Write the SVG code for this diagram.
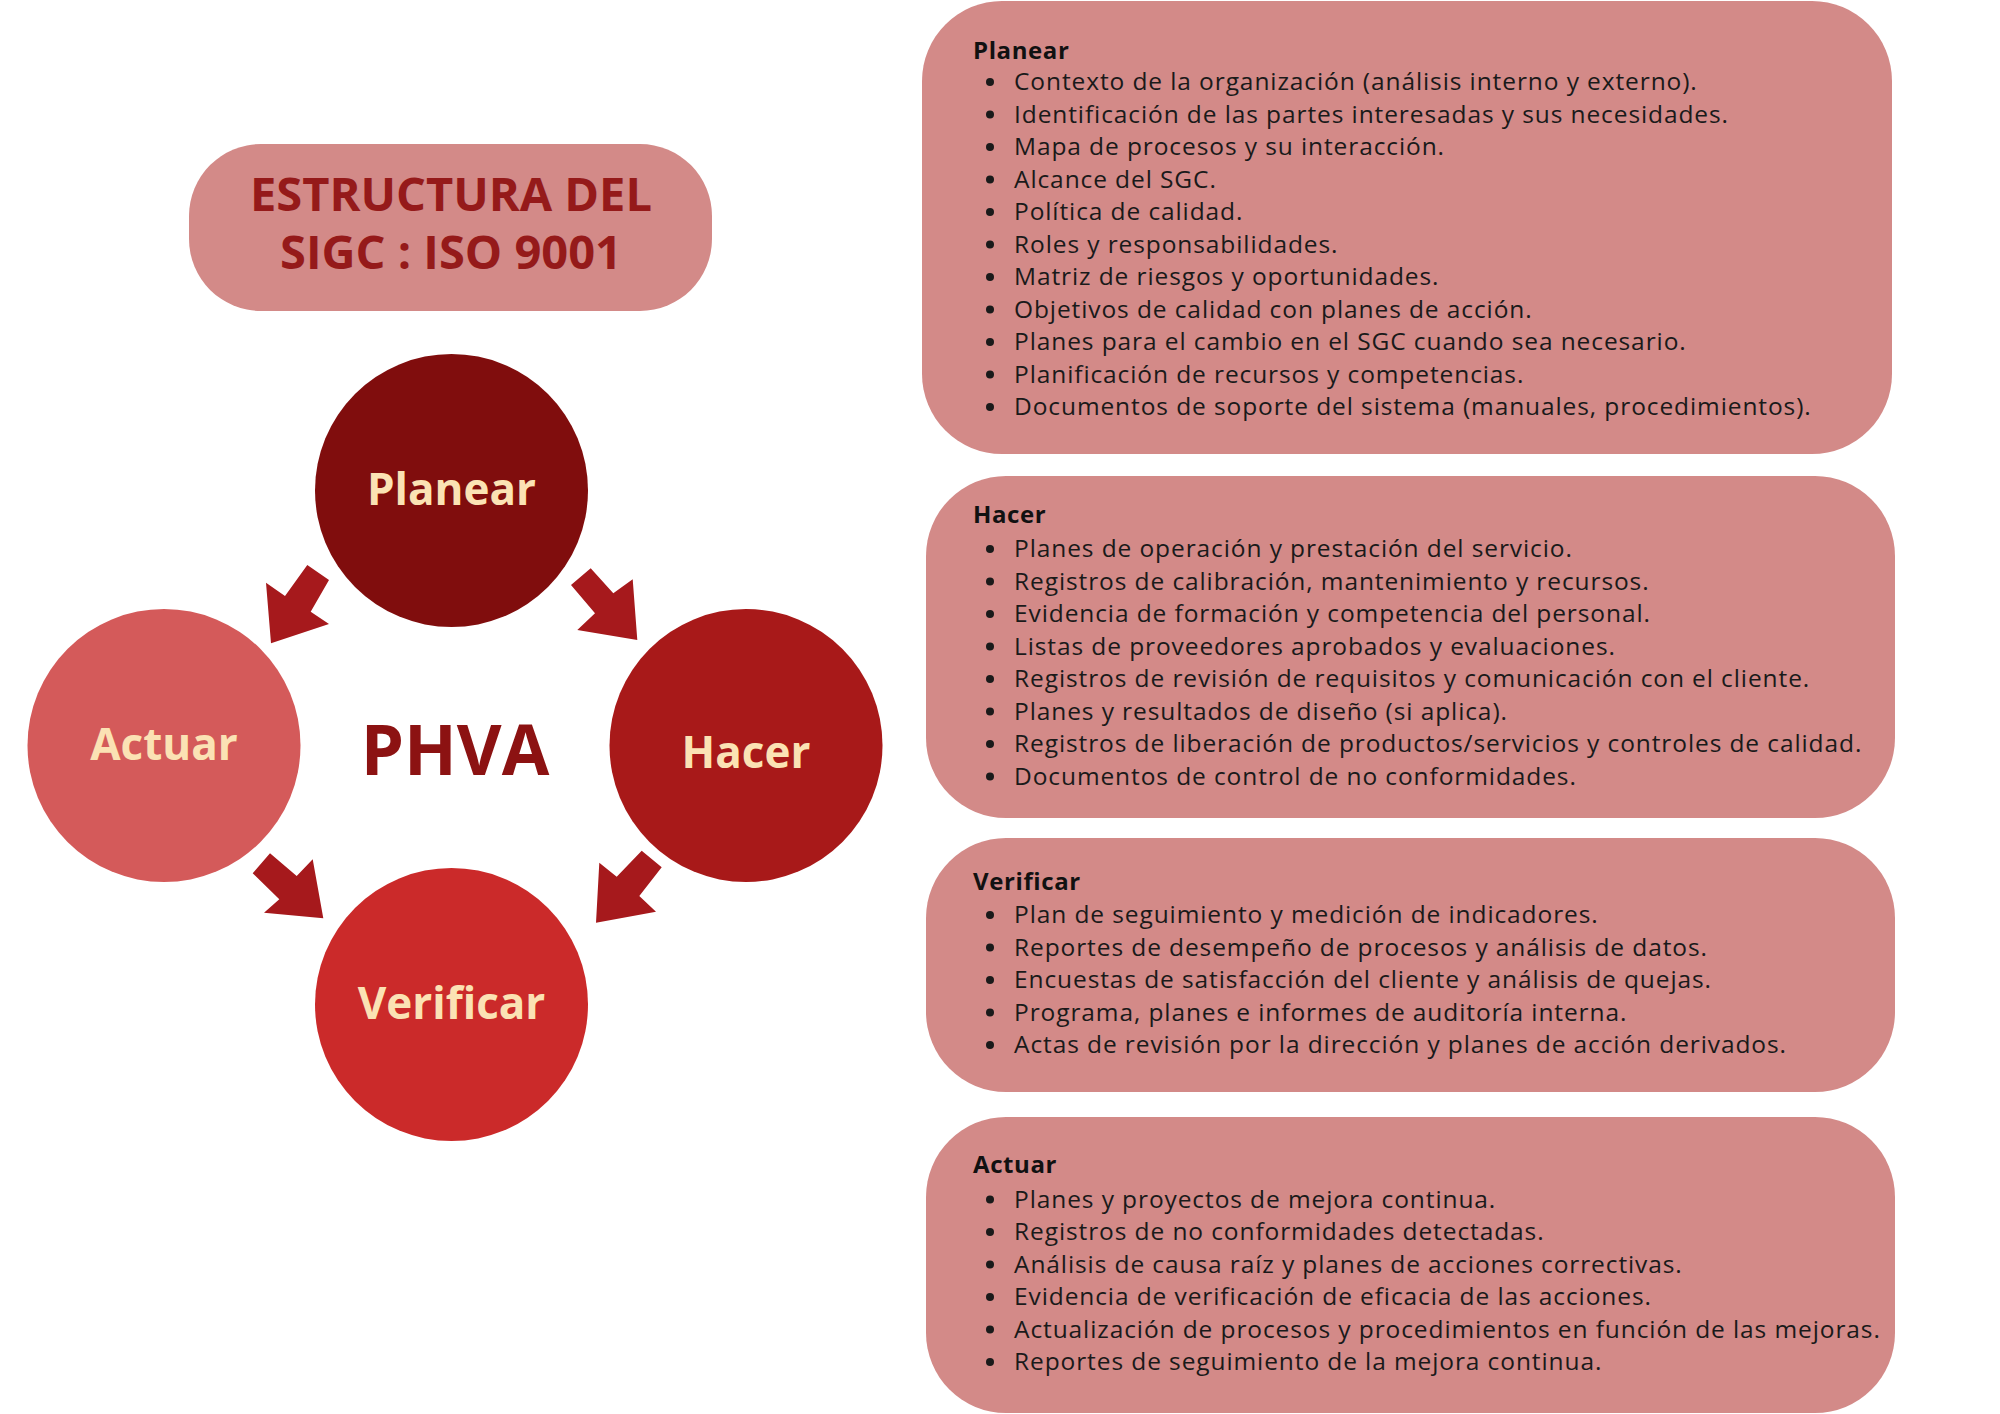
<svg xmlns="http://www.w3.org/2000/svg" width="2000" height="1414" viewBox="0 0 2000 1414">
<style>
.box{fill:#d38a88}
.title{font-family:"Open Sans","Liberation Sans",sans-serif;font-weight:700;font-size:47px;fill:#951a1a;text-anchor:middle}
.ctext{font-family:"Open Sans","Liberation Sans",sans-serif;font-weight:700;font-size:44px;fill:#fbe2b4;text-anchor:middle}
.phva{font-family:"Open Sans","Liberation Sans",sans-serif;font-weight:700;font-size:69px;fill:#8c1212;text-anchor:middle}
.hd{font-family:"Open Sans","Liberation Sans",sans-serif;font-weight:700;font-size:24px;letter-spacing:0.6px;fill:#111}
.li{font-family:"Open Sans","Liberation Sans",sans-serif;font-size:24.5px;letter-spacing:0.9px;fill:#1a1a1a}
.bul{fill:#1a1a1a}
.arrow{fill:#a6191c}
</style>
<rect width="2000" height="1414" fill="#ffffff"/>

<g id="title">
<rect class="box" x="189" y="144" width="523" height="167" rx="72"/>
<text class="title" x="451" y="211">ESTRUCTURA DEL</text>
<text class="title" x="451" y="269">SIGC : ISO 9001</text>
</g>

<g id="node-planear">
<circle cx="451.5" cy="490.5" r="136.5" fill="#800d0d"/>
<text class="ctext" x="451.5" y="505">Planear</text>
</g>
<g id="node-actuar">
<circle cx="164" cy="745.5" r="136.5" fill="#d45a5a"/>
<text class="ctext" x="164" y="760">Actuar</text>
</g>
<g id="node-hacer">
<circle cx="746" cy="745.5" r="136.5" fill="#a81919"/>
<text class="ctext" x="746" y="768">Hacer</text>
</g>
<g id="node-verificar">
<circle cx="451.5" cy="1004.5" r="136.5" fill="#cb2a2a"/>
<text class="ctext" x="451.5" y="1019">Verificar</text>
</g>
<g id="center-label">
<text class="phva" x="455" y="775">PHVA</text>
</g>

<g id="connectors">
<polygon class="arrow" points="307.3,565 329,580 310.7,611.7 329,624 271,643.3 266,582.7 285,596"/>
<polygon class="arrow" points="571,585 590.7,568.3 613.3,593.3 632.7,579.3 637.3,640 577.3,630 595,613.3"/>
<polygon class="arrow" points="252.7,873.3 270,853.3 296.7,876 312.7,859.3 323.3,918.3 264,912.7 279.3,899.3"/>
<polygon class="arrow" points="641.7,850.7 661.7,867.3 639.3,896 656,911.7 596,922.7 599.3,862.7 616.7,876.7"/>
</g>

<g id="box-planear">
<rect class="box" x="922" y="1" width="970" height="453" rx="80"/>
<text class="hd" x="973" y="59">Planear</text>
<g class="bul">
<circle cx="990" cy="82" r="4"/><circle cx="990" cy="114.5" r="4"/><circle cx="990" cy="147" r="4"/><circle cx="990" cy="179.5" r="4"/><circle cx="990" cy="212" r="4"/><circle cx="990" cy="244.5" r="4"/><circle cx="990" cy="277" r="4"/><circle cx="990" cy="309.5" r="4"/><circle cx="990" cy="342" r="4"/><circle cx="990" cy="374.5" r="4"/><circle cx="990" cy="407" r="4"/>
</g>
<text class="li" x="1014" y="90">Contexto de la organización (análisis interno y externo).</text>
<text class="li" x="1014" y="122.5">Identificación de las partes interesadas y sus necesidades.</text>
<text class="li" x="1014" y="155">Mapa de procesos y su interacción.</text>
<text class="li" x="1014" y="187.5">Alcance del SGC.</text>
<text class="li" x="1014" y="220">Política de calidad.</text>
<text class="li" x="1014" y="252.5">Roles y responsabilidades.</text>
<text class="li" x="1014" y="285">Matriz de riesgos y oportunidades.</text>
<text class="li" x="1014" y="317.5">Objetivos de calidad con planes de acción.</text>
<text class="li" x="1014" y="350">Planes para el cambio en el SGC cuando sea necesario.</text>
<text class="li" x="1014" y="382.5">Planificación de recursos y competencias.</text>
<text class="li" x="1014" y="415">Documentos de soporte del sistema (manuales, procedimientos).</text>
</g>

<g id="box-hacer">
<rect class="box" x="926" y="476" width="969" height="342" rx="80"/>
<text class="hd" x="973" y="523">Hacer</text>
<g class="bul">
<circle cx="990" cy="549" r="4"/><circle cx="990" cy="581.5" r="4"/><circle cx="990" cy="614" r="4"/><circle cx="990" cy="646.5" r="4"/><circle cx="990" cy="679" r="4"/><circle cx="990" cy="711.5" r="4"/><circle cx="990" cy="744" r="4"/><circle cx="990" cy="776.5" r="4"/>
</g>
<text class="li" x="1014" y="557">Planes de operación y prestación del servicio.</text>
<text class="li" x="1014" y="589.5">Registros de calibración, mantenimiento y recursos.</text>
<text class="li" x="1014" y="622">Evidencia de formación y competencia del personal.</text>
<text class="li" x="1014" y="654.5">Listas de proveedores aprobados y evaluaciones.</text>
<text class="li" x="1014" y="687">Registros de revisión de requisitos y comunicación con el cliente.</text>
<text class="li" x="1014" y="719.5">Planes y resultados de diseño (si aplica).</text>
<text class="li" x="1014" y="752">Registros de liberación de productos/servicios y controles de calidad.</text>
<text class="li" x="1014" y="784.5">Documentos de control de no conformidades.</text>
</g>

<g id="box-verificar">
<rect class="box" x="926" y="838" width="969" height="254" rx="80"/>
<text class="hd" x="973" y="889.5">Verificar</text>
<g class="bul">
<circle cx="990" cy="915" r="4"/><circle cx="990" cy="947.5" r="4"/><circle cx="990" cy="980" r="4"/><circle cx="990" cy="1012.5" r="4"/><circle cx="990" cy="1045" r="4"/>
</g>
<text class="li" x="1014" y="923">Plan de seguimiento y medición de indicadores.</text>
<text class="li" x="1014" y="955.5">Reportes de desempeño de procesos y análisis de datos.</text>
<text class="li" x="1014" y="988">Encuestas de satisfacción del cliente y análisis de quejas.</text>
<text class="li" x="1014" y="1020.5">Programa, planes e informes de auditoría interna.</text>
<text class="li" x="1014" y="1053">Actas de revisión por la dirección y planes de acción derivados.</text>
</g>

<g id="box-actuar">
<rect class="box" x="926" y="1117" width="969" height="296" rx="80"/>
<text class="hd" x="973" y="1172.5">Actuar</text>
<g class="bul">
<circle cx="990" cy="1199.5" r="4"/><circle cx="990" cy="1232" r="4"/><circle cx="990" cy="1264.5" r="4"/><circle cx="990" cy="1297" r="4"/><circle cx="990" cy="1329.5" r="4"/><circle cx="990" cy="1362" r="4"/>
</g>
<text class="li" x="1014" y="1207.5">Planes y proyectos de mejora continua.</text>
<text class="li" x="1014" y="1240">Registros de no conformidades detectadas.</text>
<text class="li" x="1014" y="1272.5">Análisis de causa raíz y planes de acciones correctivas.</text>
<text class="li" x="1014" y="1305">Evidencia de verificación de eficacia de las acciones.</text>
<text class="li" x="1014" y="1337.5">Actualización de procesos y procedimientos en función de las mejoras.</text>
<text class="li" x="1014" y="1370">Reportes de seguimiento de la mejora continua.</text>
</g>
</svg>
